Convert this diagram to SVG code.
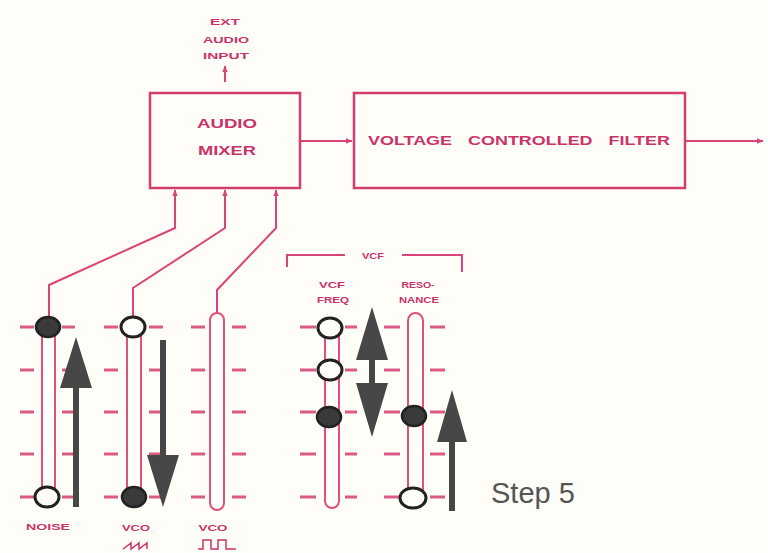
<svg xmlns="http://www.w3.org/2000/svg" width="768" height="553" viewBox="0 0 768 553">
<defs>
<style>
.ln{fill:none;stroke:#d9457a;stroke-width:2}
.box{fill:none;stroke:#d43d72;stroke-width:2.5}
.tk{stroke:#dc5a86;stroke-width:3}
.trk{fill:#fffefa;stroke:#e0507f;stroke-width:2}
.kb{fill:#fffefa;stroke:#222;stroke-width:3}
.kf{fill:#3a3a3a;stroke:#222;stroke-width:2.5}
.ar{fill:#474747}
.lb{font-family:"Liberation Sans",Arial,sans-serif;font-weight:bold;fill:#c9336a;text-anchor:middle}
.sm{font-size:8.5px}
.md{font-size:13px}
</style>
<marker id="ah" viewBox="0 0 10 10" refX="9" refY="5" markerWidth="7" markerHeight="7" orient="auto" markerUnits="userSpaceOnUse">
<path d="M0,1 L10,5 L0,9 z" fill="#d9457a"/>
</marker>
</defs>
<rect width="768" height="553" fill="#fefdf8"/>

<g id="connectors">
<polyline class="ln" points="49,318 49,285 175,228 175,190" marker-end="url(#ah)"/>
<polyline class="ln" points="133,317 133,288 225,228 225,190" marker-end="url(#ah)"/>
<polyline class="ln" points="217,313 217,290 276,228 276,190" marker-end="url(#ah)"/>
<line class="ln" x1="300" y1="141" x2="352" y2="141" marker-end="url(#ah)"/>
<line class="ln" x1="685" y1="141" x2="763" y2="141" marker-end="url(#ah)"/>
<line class="ln" x1="225" y1="82" x2="225" y2="66" marker-end="url(#ah)"/>
</g>

<g id="ext-audio-input">
<text class="lb sm" x="225" y="25" textLength="30" lengthAdjust="spacingAndGlyphs">EXT</text>
<text class="lb sm" x="226" y="43" textLength="46" lengthAdjust="spacingAndGlyphs">AUDIO</text>
<text class="lb sm" x="226" y="59" textLength="46" lengthAdjust="spacingAndGlyphs">INPUT</text>
</g>

<g id="audio-mixer">
<rect class="box" x="150" y="93" width="150" height="95"/>
<text class="lb md" x="227" y="128" textLength="60" lengthAdjust="spacingAndGlyphs">AUDIO</text>
<text class="lb md" x="227" y="155" textLength="58" lengthAdjust="spacingAndGlyphs">MIXER</text>
</g>

<g id="vcf">
<rect class="box" x="354" y="93" width="331" height="95"/>
<text class="lb md" x="519" y="145" textLength="302" lengthAdjust="spacingAndGlyphs" style="word-spacing:8px">VOLTAGE CONTROLLED FILTER</text>
</g>

<g id="ticks">
<g class="tk">
<path d="M20,327h14M62,327h13M20,370h14M62,370h13M20,412h14M62,412h13M20,454h14M62,454h13M20,497h14M62,497h13"/>
<path d="M104,327h14M149,327h14M104,370h14M149,370h14M104,412h14M149,412h14M104,454h14M149,454h14M104,497h14M149,497h14"/>
<path d="M191,327h14M232,327h14M191,370h14M232,370h14M191,412h14M232,412h14M191,454h14M232,454h14M191,497h14M232,497h14"/>
<path d="M300,327h16M345,327h12M300,370h16M345,370h12M300,412h16M345,412h12M300,454h16M345,454h12M300,497h16M345,497h12"/>
<path d="M384,327h16M430,327h15M384,370h16M430,370h15M384,412h16M430,412h15M384,454h16M430,454h15M384,497h16M430,497h15"/>
</g>
</g>

<g id="noise-slider">
<rect class="trk" x="42" y="318" width="13" height="186" rx="6.5"/>
<ellipse class="kf" cx="48" cy="327" rx="12" ry="10"/>
<ellipse class="kb" cx="47" cy="497" rx="12" ry="10"/>
<polygon class="ar" points="76,337 92,388 79,388 79,507 73,507 73,388 60,388"/>
<text class="lb sm" x="48" y="530" textLength="44" lengthAdjust="spacingAndGlyphs">NOISE</text>
</g>

<g id="vco-saw-slider">
<rect class="trk" x="127" y="318" width="14" height="186" rx="7"/>
<ellipse class="kb" cx="133" cy="327" rx="12" ry="10"/>
<ellipse class="kf" cx="134" cy="497" rx="12" ry="10"/>
<polygon class="ar" points="160,340 166,340 166,455 179,455 163,507 147,455 160,455"/>
<text class="lb sm" x="136" y="531" textLength="28" lengthAdjust="spacingAndGlyphs">VCO</text>
<polyline fill="none" stroke="#c9336a" stroke-width="1.5" points="123,549 131,543 131,549 139,543 139,549 147,543 147,549"/>
</g>

<g id="vco-square-slider">
<rect class="trk" x="210" y="313" width="14" height="197" rx="7"/>
<text class="lb sm" x="213" y="531" textLength="29" lengthAdjust="spacingAndGlyphs">VCO</text>
<polyline fill="none" stroke="#c9336a" stroke-width="1.5" points="198,549 203,549 203,540 211,540 211,549 218,549 218,540 226,540 226,549 236,549"/>
</g>

<g id="vcf-group-label">
<polyline class="ln" points="287,267 287,255 345,255"/>
<polyline class="ln" points="402,255 462,255 462,272"/>
<text class="lb sm" x="373" y="259" textLength="22" lengthAdjust="spacingAndGlyphs">VCF</text>
</g>

<g id="vcf-freq-slider">
<text class="lb sm" x="332" y="288" textLength="26" lengthAdjust="spacingAndGlyphs">VCF</text>
<text class="lb sm" x="333" y="303" textLength="32" lengthAdjust="spacingAndGlyphs">FREQ</text>
<rect class="trk" x="325" y="320" width="14" height="188" rx="7"/>
<ellipse class="kb" cx="330" cy="328" rx="12" ry="10"/>
<ellipse class="kb" cx="330" cy="370" rx="12" ry="10"/>
<ellipse class="kf" cx="329" cy="417" rx="12" ry="10"/>
<polygon class="ar" points="372,307 388,360 375,360 375,383 388,383 372,437 356,383 369,383 369,360 356,360"/>
</g>

<g id="resonance-slider">
<text class="lb sm" x="418" y="288" textLength="33" lengthAdjust="spacingAndGlyphs">RESO-</text>
<text class="lb sm" x="419" y="303" textLength="40" lengthAdjust="spacingAndGlyphs">NANCE</text>
<rect class="trk" x="408" y="313" width="15" height="194" rx="7.5"/>
<ellipse class="kf" cx="414" cy="416" rx="12" ry="10"/>
<ellipse class="kb" cx="413" cy="498" rx="13" ry="10"/>
<polygon class="ar" points="452,390 467,442 455,442 455,511 449,511 449,442 437,442"/>
</g>

<text x="491" y="503" font-family="'Liberation Sans',Arial,sans-serif" font-size="29" fill="#555">Step 5</text>
</svg>
